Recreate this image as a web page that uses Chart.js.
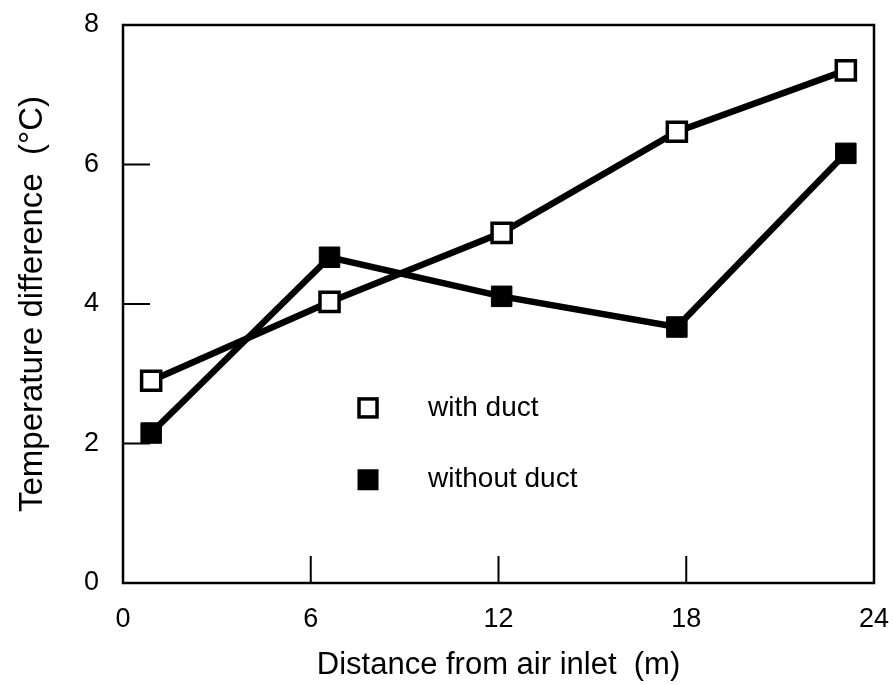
<!DOCTYPE html>
<html>
<head>
<meta charset="utf-8">
<script src="https://cdn.jsdelivr.net/npm/chart.js@4/dist/chart.umd.min.js"></script>
<style>
  html, body { margin: 0; padding: 0; background: #fff; }
  #wrap { width: 893px; height: 685px; }
</style>
</head>
<body>
<div id="wrap"><canvas id="tempChart" width="893" height="685"></canvas></div>
<script>
// values
const distances = [0.9, 6.6, 12.1, 17.7, 23.1];
const withDuct = [2.9, 4.03, 5.02, 6.47, 7.35];
const withoutDuct = [2.15, 4.67, 4.11, 3.67, 6.16];
const xTicks = [0, 6, 12, 18, 24];
const yTicks = [0, 2, 4, 6, 8];
const seriesNames = ["with duct", "without duct"];

const FONT = "'Liberation Sans', Arial, Helvetica, sans-serif";

function toPoints(xs, ys) {
  return xs.map((x, i) => ({ x: x, y: ys[i] }));
}

// box round the plot + short ticks pointing inwards
const frame = {
  id: "frame",
  beforeDatasetsDraw(chart) {
    const { ctx, chartArea: a, scales } = chart;
    ctx.save();
    ctx.strokeStyle = "#000";
    ctx.lineWidth = 2.5;
    ctx.strokeRect(a.left, a.top, a.right - a.left, a.bottom - a.top);
    ctx.lineWidth = 2;
    ctx.beginPath();
    xTicks.slice(1, -1).forEach((v) => {
      let px = scales.x.getPixelForValue(v);
      ctx.moveTo(px, a.bottom);
      ctx.lineTo(px, a.bottom - 27);
    });
    yTicks.slice(1, -1).forEach((v) => {
      let py = scales.y.getPixelForValue(v);
      ctx.moveTo(a.left, py);
      ctx.lineTo(a.left + 27, py);
    });
    ctx.stroke();
    ctx.restore();
  },
};

// legend sits inside the plot, markers then text
const innerLegend = {
  id: "innerLegend",
  afterDraw(chart) {
    const { ctx, scales } = chart;
    ctx.save();
    ctx.font = "28px " + FONT;
    ctx.textBaseline = "middle";
    const mx = scales.x.getPixelForValue(7.83);
    const rows = [scales.y.getPixelForValue(2.51), scales.y.getPixelForValue(1.48)];
    chart.data.datasets.forEach((ds, i) => {
      let y = rows[i];
      if (i === 0) {
        ctx.fillStyle = "#fff";
        ctx.strokeStyle = "#000";
        ctx.lineWidth = 3.5;
        ctx.fillRect(mx - 9, y - 9, 18, 18);
        ctx.strokeRect(mx - 9, y - 9, 18, 18);
      } else {
        ctx.fillStyle = "#000";
        ctx.fillRect(mx - 10.5, y - 10.5, 21, 21);
      }
      ctx.fillStyle = "#000";
      ctx.fillText(ds.label, mx + 60, y);
    });
    ctx.restore();
  },
};

new Chart(document.getElementById("tempChart"), {
  type: "line",
  data: {
    datasets: [
      {
        label: seriesNames[0],
        data: toPoints(distances, withDuct),
        borderColor: "#000",
        borderWidth: 6.5,
        pointStyle: "rect",
        pointRadius: 13.5,
        pointBorderWidth: 3.5,
        pointBorderColor: "#000",
        pointBackgroundColor: "#fff",
      },
      {
        label: seriesNames[1],
        data: toPoints(distances, withoutDuct),
        borderColor: "#000",
        borderWidth: 6.5,
        pointStyle: "rect",
        pointRadius: 14.5,
        pointBorderWidth: 1,
        pointBorderColor: "#000",
        pointBackgroundColor: "#000",
      },
    ],
  },
  options: {
    responsive: false,
    animation: false,
    layout: { padding: { top: 25, right: 19, left: 0, bottom: 0 } },
    plugins: { legend: { display: false }, tooltip: { enabled: false } },
    scales: {
      x: {
        type: "linear",
        min: 0,
        max: 24,
        afterBuildTicks: (s) => { s.ticks = xTicks.map((v) => ({ value: v })); },
        afterFit: (s) => {
          s.height = 102;
          s.paddingLeft = 0;
          s.paddingRight = 0;
        },
        grid: { display: false, drawTicks: false },
        border: { display: false },
        ticks: { color: "#000", padding: 20, font: { family: FONT, size: 27 }, maxRotation: 0 },
        title: {
          display: true,
          text: "Distance from air inlet  (m)",
          color: "#000",
          font: { family: FONT, size: 31 },
          padding: { top: 0, bottom: 1 },
        },
      },
      y: {
        min: 0,
        max: 8,
        afterBuildTicks: (s) => { s.ticks = yTicks.map((v) => ({ value: v })); },
        afterFit: (s) => {
          s.width = 123;
          s.paddingTop = 0;
          s.paddingBottom = 0;
        },
        grid: { display: false, drawTicks: false },
        border: { display: false },
        ticks: { color: "#000", padding: 24, font: { family: FONT, size: 27 } },
        title: {
          display: true,
          text: "Temperature difference  (°C)",
          color: "#000",
          font: { family: FONT, size: 33 },
          padding: { top: 13, bottom: 0 },
        },
      },
    },
  },
  plugins: [frame, innerLegend],
});
</script>
</body>
</html>
